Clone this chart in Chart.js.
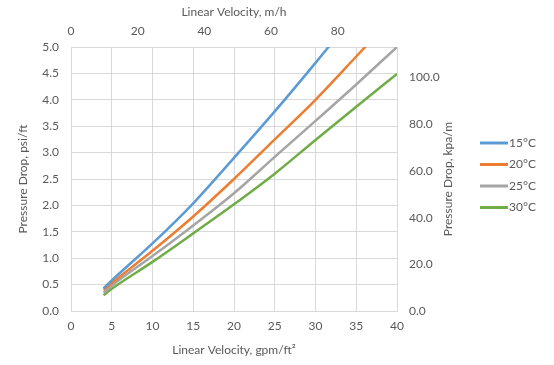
<!DOCTYPE html>
<html>
<head>
<meta charset="utf-8">
<script src="https://cdn.jsdelivr.net/npm/chart.js@4.4.1/dist/chart.umd.min.js"></script>
<style>
  html, body { margin: 0; padding: 0; background: #fff; }
  #wrap { width: 554px; height: 365px; }
</style>
</head>
<body>
<div id="wrap"><canvas id="pressureChart"></canvas></div>
<script>
// values
const velocityGpm = [4, 5, 10, 15, 20, 25, 30, 35, 40];
const drop15 = [0.43, 0.58, 1.28, 2.04, 2.90, 3.78, 4.70, 5.65, 6.60];
const drop20 = [0.40, 0.53, 1.14, 1.79, 2.50, 3.25, 4.00, 4.82, 5.65];
const drop25 = [0.35, 0.48, 1.04, 1.62, 2.23, 2.92, 3.60, 4.29, 5.00];
const drop30 = [0.30, 0.42, 0.93, 1.47, 2.02, 2.60, 3.24, 3.87, 4.49];
const seriesLabels = ['15°C', '20°C', '25°C', '30°C'];
const seriesColors = ['#5B9BD5', '#ED7D31', '#A5A5A5', '#70AD47'];

// axis ranges
const gpmMax = 40;
const psiMax = 5;
const mhPerGpm = 2.4448;   // 1 gpm/ft2 in m/h
const kpaPerPsi = 22.62;   // 1 psi/ft in kPa/m

const textColor = '#595959';
const gridColor = '#d9d9d9';
const baseFont = { family: 'Lato', size: 12 };

const toPoints = ys => velocityGpm.map((x, i) => ({ x: x, y: ys[i] }));

// legend to the right of the secondary axis
const sideLegend = {
    id: 'sideLegend',
    afterDraw(chart) {
        const ctx = chart.ctx;
        ctx.save();
        ctx.font = '12px Lato';
        ctx.textBaseline = 'middle';
        chart.data.datasets.forEach((ds, i) => {
            const y = 143 + i * 21.5;
            ctx.strokeStyle = ds.borderColor;
            ctx.lineWidth = 3;
            ctx.beginPath();
            ctx.moveTo(480, y);
            ctx.lineTo(508, y);
            ctx.stroke();
            ctx.fillStyle = textColor;
            ctx.fillText(ds.label, 509, y);
        });
        // right axis title reads bottom to top
        const area = chart.chartArea;
        ctx.translate(448, (area.top + area.bottom) / 2);
        ctx.rotate(-Math.PI / 2);
        ctx.textAlign = 'center';
        ctx.fillText('Pressure Drop, kpa/m', 0, 0);
        ctx.restore();
    }
};

const ctx = document.getElementById('pressureChart');
new Chart(ctx, {
    type: 'line',
    data: {
        datasets: [drop15, drop20, drop25, drop30].map((ys, i) => ({
            label: seriesLabels[i],
            data: toPoints(ys),
            borderColor: seriesColors[i],
            backgroundColor: seriesColors[i],
            borderWidth: 2.5,
            pointRadius: 0,
            cubicInterpolationMode: 'monotone',
            xAxisID: 'x',
            yAxisID: 'y'
        }))
    },
    options: {
        responsive: true,
        maintainAspectRatio: false,
        animation: false,
        layout: { padding: 0 },
        plugins: {
            legend: { display: false },
            tooltip: { enabled: false }
        },
        scales: {
            x: {
                type: 'linear',
                position: 'bottom',
                min: 0,
                max: gpmMax,
                afterFit: s => { s.height = 54; },
                ticks: { stepSize: 5, padding: 8, color: textColor, font: baseFont, maxRotation: 0 },
                grid: { color: gridColor, drawTicks: false },
                border: { color: gridColor },
                title: { display: true, text: 'Linear Velocity, gpm/ft²', color: textColor, font: baseFont, padding: { top: 0, bottom: 8 } }
            },
            xTop: {
                type: 'linear',
                position: 'top',
                min: 0,
                max: gpmMax * mhPerGpm,
                afterFit: s => { s.height = 47; },
                ticks: { stepSize: 20, includeBounds: false, padding: 9, color: textColor, font: baseFont, maxRotation: 0 },
                grid: { display: false, drawTicks: false },
                border: { display: false },
                title: { display: true, text: 'Linear Velocity, m/h', color: textColor, font: baseFont, padding: { top: 5, bottom: 0 } }
            },
            y: {
                type: 'linear',
                position: 'left',
                min: 0,
                max: psiMax,
                afterFit: s => { s.width = 71; },
                ticks: { stepSize: 0.5, padding: 12, color: textColor, font: baseFont, callback: v => v.toFixed(1) },
                grid: { color: gridColor, drawTicks: false },
                border: { color: gridColor },
                title: { display: true, text: 'Pressure Drop, psi/ft', color: textColor, font: baseFont, padding: { top: 16, bottom: 0 } }
            },
            yRight: {
                type: 'linear',
                position: 'right',
                min: 0,
                max: psiMax * kpaPerPsi,
                afterFit: s => { s.width = 157; },
                ticks: { stepSize: 20, includeBounds: false, padding: 12, color: textColor, font: baseFont, callback: v => v.toFixed(1) },
                grid: { display: false, drawTicks: false },
                border: { display: false }
            }
        }
    },
    plugins: [sideLegend]
});
</script>
</body>
</html>
